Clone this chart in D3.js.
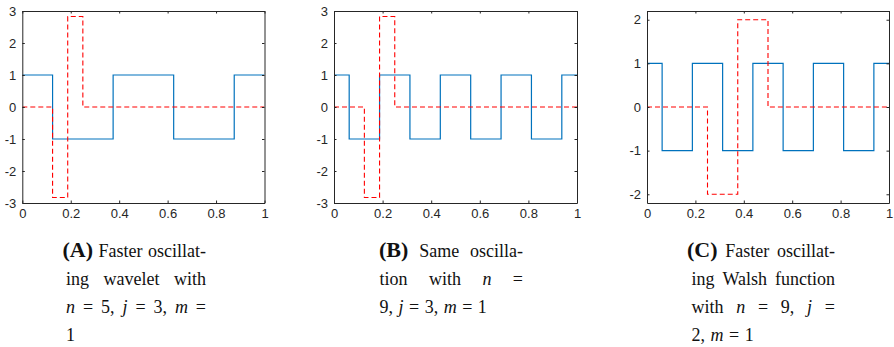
<!DOCTYPE html>
<html>
<head>
<meta charset="utf-8">
<script src="https://cdn.jsdelivr.net/npm/d3@7"></script>
<style>
  html, body { margin: 0; padding: 0; background: #fff; }
  svg { display: block; }
</style>
</head>
<body>
<svg id="chart" width="894" height="347"></svg>
<script>
// ---------- DATA ----------
const xTicks = [0, 0.2, 0.4, 0.6, 0.8, 1];
const xTickLabels = ["0", "0.2", "0.4", "0.6", "0.8", "1"];
const yTicksAB = [3, 2, 1, 0, -1, -2, -3];
const yTicksC = [2, 1, 0, -1, -2];

// step functions: breakpoints and piecewise-constant values
const blueA_x = [0, 0.125, 0.375, 0.625, 0.875, 1];
const blueA_y = [1, -1, 1, -1, 1];
const redA_x = [0, 0.125, 0.1875, 0.25, 1];
const redA_y = [0, -2.8284, 2.8284, 0];

const blueB_x = [0, 0.0625, 0.1875, 0.3125, 0.4375, 0.5625, 0.6875, 0.8125, 0.9375, 1];
const blueB_y = [1, -1, 1, -1, 1, -1, 1, -1, 1];
const redB_x = [0, 0.125, 0.1875, 0.25, 1];
const redB_y = [0, -2.8284, 2.8284, 0];

const blueC_x = [0, 0.0625, 0.1875, 0.3125, 0.4375, 0.5625, 0.6875, 0.8125, 0.9375, 1];
const blueC_y = [1, -1, 1, -1, 1, -1, 1, -1, 1];
const redC_x = [0, 0.25, 0.375, 0.5, 1];
const redC_y = [0, -2, 2, 0];

// captions: each line is a list of tokens [text, style]; style: b=bold, i=math italic, r=roman
const captionA = [
  [["(A)", "b"], ["Faster", "r"], ["oscillat-", "r"]],
  [["ing", "r"], ["wavelet", "r"], ["with", "r"]],
  [["n", "i"], ["=", "r"], ["5,", "r"], ["j", "i"], ["=", "r"], ["3,", "r"], ["m", "i"], ["=", "r"]],
  [["1", "r"]]
];
const captionB = [
  [["(B)", "b"], ["Same", "r"], ["oscilla-", "r"]],
  [["tion", "r"], ["with", "r"], ["n", "i"], ["=", "r"]],
  [["9,", "r"], ["j", "i"], ["=", "r"], ["3,", "r"], ["m", "i"], ["=", "r"], ["1", "r"]]
];
const captionC = [
  [["(C)", "b"], ["Faster", "r"], ["oscillat-", "r"]],
  [["ing", "r"], ["Walsh", "r"], ["function", "r"]],
  [["with", "r"], ["n", "i"], ["=", "r"], ["9,", "r"], ["j", "i"], ["=", "r"]],
  [["2,", "r"], ["m", "i"], ["=", "r"], ["1", "r"]]
];

// ---------- LAYOUT ----------
const svg = d3.select("#chart");
const AX = "#262626";
const BLUE = "#0072BD";
const RED = "#FF0000";

const panels = [
  { x0: 22.3, x1: 264.5, yDom: [-3, 3], yTicks: yTicksAB, blue: [blueA_x, blueA_y], red: [redA_x, redA_y],
    cap: captionA, capFirstX: 62.5, capX: 66, capR: 206 },
  { x0: 334, x1: 577, yDom: [-3, 3], yTicks: yTicksAB, blue: [blueB_x, blueB_y], red: [redB_x, redB_y],
    cap: captionB, capFirstX: 379, capX: 379.5, capR: 523 },
  { x0: 647, x1: 889, yDom: [-2.2, 2.2], yTicks: yTicksC, blue: [blueC_x, blueC_y], red: [redC_x, redC_y],
    cap: captionC, capFirstX: 687, capX: 691.5, capR: 835 }
];
const yTop = 11, yBot = 203;
const tickLen = 2.5;
const baselines = [257, 285, 313, 341];

function stepPoints(xs, ys) {
  const pts = [];
  for (let i = 0; i < ys.length; i++) {
    pts.push([xs[i], ys[i]]);
    pts.push([xs[i + 1], ys[i]]);
  }
  return pts;
}

panels.forEach(p => {
  const x = d3.scaleLinear().domain([0, 1]).range([p.x0, p.x1]);
  const y = d3.scaleLinear().domain(p.yDom).range([yBot, yTop]);
  const g = svg.append("g");

  const cid = "clip" + Math.round(p.x0);
  svg.append("clipPath").attr("id", cid).append("rect")
    .attr("x", p.x0).attr("y", yTop).attr("width", p.x1 - p.x0).attr("height", yBot - yTop);

  const line = d3.line().x(d => x(d[0])).y(d => y(d[1]));

  g.append("path")
    .attr("d", line(stepPoints(p.blue[0], p.blue[1])))
    .attr("fill", "none").attr("stroke", BLUE).attr("stroke-width", 1.2)
    .attr("clip-path", `url(#${cid})`);
  g.append("path")
    .attr("d", line(stepPoints(p.red[0], p.red[1])))
    .attr("fill", "none").attr("stroke", RED).attr("stroke-width", 1.1)
    .attr("stroke-dasharray", "5,3")
    .attr("clip-path", `url(#${cid})`);

  const fontAx = "'Liberation Sans', Arial, Helvetica, sans-serif";
  const bottom = g.append("g").attr("transform", `translate(0,${yBot})`)
    .call(d3.axisBottom(x).tickValues(xTicks).tickFormat((d, i) => xTickLabels[i])
      .tickSizeInner(-tickLen).tickSizeOuter(0).tickPadding(6));
  const top = g.append("g").attr("transform", `translate(0,${yTop})`)
    .call(d3.axisTop(x).tickValues(xTicks).tickFormat("").tickSizeInner(-tickLen).tickSizeOuter(0));
  const left = g.append("g").attr("transform", `translate(${p.x0},0)`)
    .call(d3.axisLeft(y).tickValues(p.yTicks).tickFormat(d => String(d).replace("−", "-"))
      .tickSizeInner(-tickLen).tickSizeOuter(0).tickPadding(6));
  const right = g.append("g").attr("transform", `translate(${p.x1},0)`)
    .call(d3.axisRight(y).tickValues(p.yTicks).tickFormat("").tickSizeInner(-tickLen).tickSizeOuter(0));

  [bottom, top, left, right].forEach(a => {
    a.attr("font-size", null).attr("font-family", null);
    a.select(".domain").attr("stroke", AX).attr("stroke-width", 1);
    a.selectAll(".tick line").attr("stroke", AX).attr("stroke-width", 1);
    a.selectAll(".tick text").attr("fill", "#262626")
      .style("font-family", fontAx).style("font-size", "13px");
  });
  bottom.selectAll(".tick text").attr("dy", "0.71em");

  // caption with justified lines
  const cap = g.append("g");
  p.cap.forEach((tokens, li) => {
    const lx = li === 0 ? p.capFirstX : p.capX;
    const isLast = li === p.cap.length - 1;
    const els = tokens.map(([t, s]) => cap.append("text")
        .attr("y", baselines[li])
        .attr("fill", "#111")
        .style("font-family", "'Liberation Serif', 'Times New Roman', Times, serif")
        .style("font-size", s === "b" ? "22px" : "18px")
        .style("font-weight", s === "b" ? "bold" : "normal")
        .style("font-style", s === "i" ? "italic" : "normal")
        .text(t));
    const widths = els.map(e => e.node().getComputedTextLength());
    const total = d3.sum(widths);
    let gap;
    if (isLast || els.length === 1) {
      gap = 5.5;
    } else {
      gap = (p.capR - lx - total) / (els.length - 1);
    }
    let cx = lx;
    els.forEach((e, i) => {
      e.attr("x", cx);
      cx += widths[i] + gap;
    });
  });
});
</script>
</body>
</html>
